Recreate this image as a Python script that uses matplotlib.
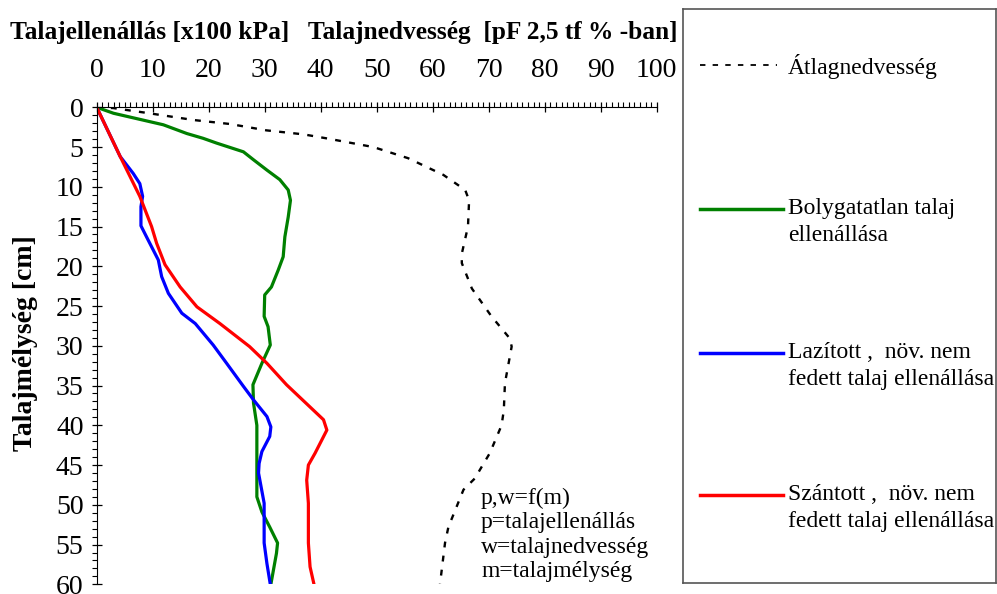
import matplotlib.pyplot as plt
from matplotlib.ticker import MultipleLocator

plt.rcParams['font.family'] = ['Liberation Serif', 'DejaVu Serif']

# depth [cm] and values for each profile
moist_depth = [0, 0.1, 0.7, 1.6, 2.1, 2.9, 3.4, 3.9, 5.0, 6.4, 8.5, 10.4, 11.7, 15.0, 18.4,
               19.6, 22.8, 26.3, 29.1, 30.1, 34.7, 38.1, 40.0, 43.5, 46.7, 48.1, 52.8, 54.8, 60]
moist = [0, 3.0, 8.9, 17.3, 23.8, 30.3, 36.9, 41.0, 49.4, 55.6, 61.9, 65.8, 66.5, 66.3, 65.2,
         65.2, 67.0, 70.5, 73.8, 74.1, 72.9, 72.7, 72.3, 70.2, 67.5, 65.5, 62.8, 62.2, 61.3]

green_depth = [0, 0.75, 2.2, 3.3, 3.9, 4.5, 5.6, 6.6, 7.9, 9.1, 10.4, 11.7, 13.8, 16.3, 18.8,
               20.5, 22.6, 23.6, 26.3, 27.6, 29.9, 32.2, 34.9, 37.2, 40.0, 44.8, 49.0, 50.9,
               52.8, 54.8, 56.1, 60]
green = [0, 3.0, 11.9, 16.1, 19.0, 21.4, 26.2, 28.0, 30.4, 32.7, 34.2, 34.6, 34.2, 33.6, 33.3,
         32.4, 31.2, 30.0, 29.9, 30.6, 31.0, 29.5, 27.9, 28.0, 28.6, 28.6, 28.6, 29.5,
         30.9, 32.3, 32.1, 31.1]

blue_depth = [0, 6.2, 8.3, 9.6, 11.2, 12.5, 14.9, 16.3, 19.2, 21.3, 23.4, 25.9, 27.2, 29.9,
              32.2, 35.1, 36.8, 38.9, 40.2, 41.4, 43.3, 44.8, 46.0, 49.8, 54.8, 57.4, 60]
blue = [0, 4.2, 6.5, 7.7, 8.2, 7.9, 7.9, 8.9, 11.0, 11.6, 12.8, 15.2, 17.6, 20.8,
        23.2, 26.2, 28.0, 30.4, 31.1, 30.9, 29.5, 29.0, 28.9, 29.9, 29.9, 30.4, 31.0]

red_depth = [0, 6.2, 11.2, 15.0, 17.1, 19.8, 22.6, 25.1, 27.2, 30.1, 32.2, 34.9, 37.7, 39.3,
             40.6, 43.5, 45.0, 46.9, 49.8, 54.8, 57.8, 60]
red = [0, 4.2, 7.7, 9.8, 10.7, 12.2, 14.9, 17.9, 22.0, 27.3, 30.4, 33.9, 38.1, 40.5,
       41.1, 39.0, 37.8, 37.5, 37.8, 37.8, 38.1, 38.8]

labels = ['Átlagnedvesség',
          'Bolygatatlan talaj\nellenállása',
          'Lazított ,  növ. nem\nfedett talaj ellenállása',
          'Szántott ,  növ. nem\nfedett talaj ellenállása']

notes = ['p,w=f(m)', 'p=talajellenállás', 'w=talajnedvesség', 'm=talajmélység']

W, H = 997, 594
fig = plt.figure(figsize=(W / 100, H / 100), dpi=100)
ax = fig.add_axes([96.7 / W, 1 - 584.3 / H, 560 / W, 477 / H])

ax.plot(moist, moist_depth, color='black', lw=1.7, ls=(0, (2.5, 3.5)))
ax.plot(green, green_depth, color='#008000', lw=2.3)
ax.plot(blue, blue_depth, color='#0000ff', lw=2.3)
ax.plot(red, red_depth, color='#ff0000', lw=2.3)

ax.set_xlim(0, 100)
ax.set_ylim(60, 0)
ax.xaxis.tick_top()
ax.spines['right'].set_visible(False)
ax.spines['bottom'].set_visible(False)
ax.xaxis.set_major_locator(MultipleLocator(10))
ax.xaxis.set_minor_locator(MultipleLocator(1))
ax.yaxis.set_major_locator(MultipleLocator(5))
ax.yaxis.set_minor_locator(MultipleLocator(1))
ax.tick_params(which='major', direction='inout', length=7, width=0.9, labelsize=20, pad=14)
ax.tick_params(which='minor', direction='out', length=3.5, width=0.8)
ax.tick_params(axis='y', which='major', pad=6)

fig.text(10 / W, 1 - 33 / H,
         'Talajellenállás [x100 kPa]   Talajnedvesség  [pF 2,5 tf % -ban]',
         fontsize=18.3, fontweight='bold', va='center', ha='left')
fig.text(25 / W, 1 - 343 / H, 'Talajmélység [cm]', fontsize=20, fontweight='bold',
         rotation=90, va='center', ha='center')

for i, note in enumerate(notes):
    fig.text(481 / W, 1 - (498 + 24.5 * i) / H, note, fontsize=17, va='center', ha='left')

# legend box drawn in pixel coordinates
lax = fig.add_axes([683 / W, 1 - 583 / H, 313 / W, 574 / H])
lax.set_xlim(683, 996)
lax.set_ylim(583, 9)
lax.set_xticks([])
lax.set_yticks([])
for s in lax.spines.values():
    s.set_color('#555555')
    s.set_linewidth(1.2)

styles = [dict(color='black', lw=1.3, ls=(0, (3, 4))),
          dict(color='#008000', lw=2.5),
          dict(color='#0000ff', lw=2.5),
          dict(color='#ff0000', lw=2.5)]
rows = [65, 209, 353, 495]
ends = [777, 783, 783, 783]
for lab, st, y, x1 in zip(labels, styles, rows, ends):
    lax.plot([700, x1], [y, y], **st)
    lax.text(788, y - 11, lab, fontsize=17, va='top', ha='left', linespacing=1.35)

fig.savefig('out.png', dpi=100)
